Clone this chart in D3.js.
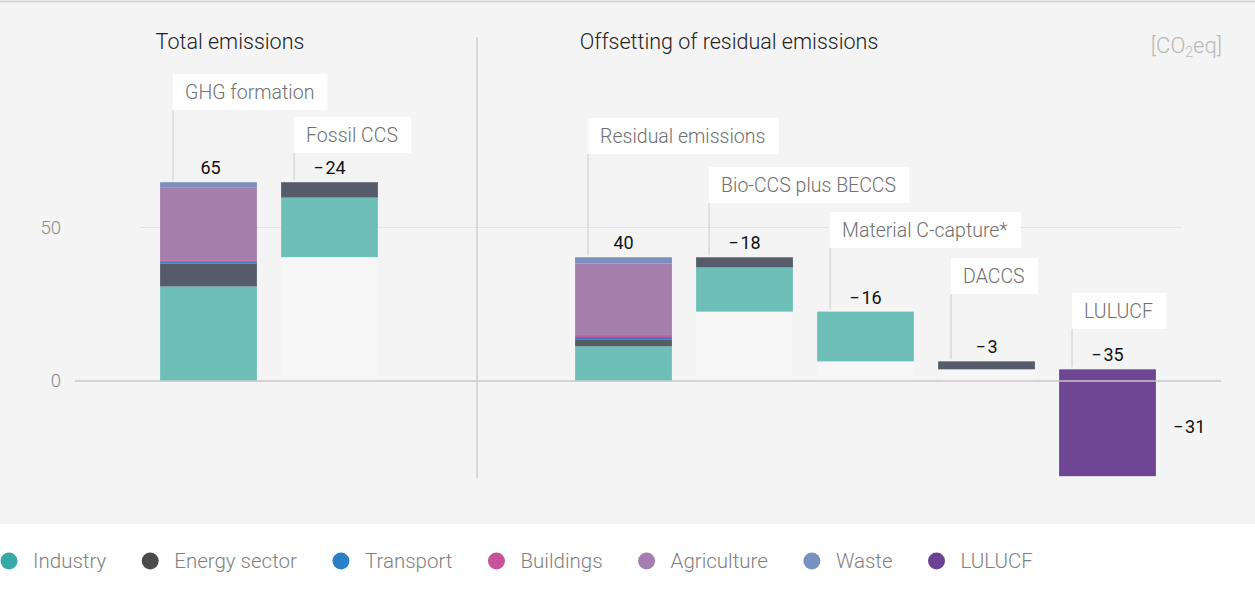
<!DOCTYPE html>
<html>
<head>
<meta charset="utf-8">
<script src="https://cdn.jsdelivr.net/npm/d3@7"></script>
<style>
  body { margin: 0; background: #fff; font-family: Roboto, "Open Sans", sans-serif; }
</style>
</head>
<body>
<div id="chart"></div>
<script>
// data (CO2eq)
var categories = ["GHG formation", "Fossil CCS", "Residual emissions", "Bio-CCS plus BECCS",
                  "Material C-capture*", "DACCS", "LULUCF"];
var barKind = ["total", "step", "total", "step", "step", "step", "step"];
var sectors = ["Industry", "Energy sector", "Transport", "Buildings", "Agriculture", "Waste", "LULUCF"];

var industry    = [30.8, 19.4, 11.3, 14.4, 16.2, 0,   0];
var energy      = [7.4,  5.0,  2.3,  3.3,  0,    2.6, 0];
var transport   = [0.55, 0,    0.75, 0,    0,    0,   0];
var buildings   = [0.6,  0,    0.65, 0,    0,    0,   0];
var agriculture = [23.6, 0,    23.3, 0,    0,    0,   0];
var waste       = [1.8,  0,    2.0,  0,    0,    0,   0];
var lulucf      = [0,    0,    0,    0,    0,    0,   34.8];

var valueLabels = ["65", "\u2212\u200a24", "40", "\u2212\u200a18", "\u2212\u200a16", "\u2212\u200a3", "\u2212\u200a35"];
var endLabel = "\u2212\u200a31";
var yTicks = [0, 50];
var panelTitles = ["Total emissions", "Offsetting of residual emissions"];

// styles
var barColors    = ["#6dbfb7", "#555b69", "#3a7bbf", "#d0589f", "#a47fab", "#7a8fbe", "#6f4694"];
var legendColors = ["#35a8a8", "#4b4b4b", "#2a80c6", "#c7529c", "#a67db1", "#7791c0", "#6d4295"];
var calloutTop = [74, 117, 118, 167, 212, 258, 293];

var W = 1255, H = 593;

var svg = d3.select("#chart").append("svg")
    .attr("width", W)
    .attr("height", H);

// grey panel
svg.append("rect")
    .attr("width", W).attr("height", 524)
    .attr("fill", "#f4f4f4");
svg.append("line")
    .attr("x1", 0).attr("x2", W).attr("y1", 1.5).attr("y2", 1.5)
    .attr("stroke", "#cfcfcf").attr("stroke-width", 1.5);

// scales
var y = d3.scaleLinear().domain([0, 50]).range([381, 227.5]);

var xLeft = d3.scaleBand().domain(categories.slice(0, 2))
    .range([148, 390]).paddingInner(0.2).paddingOuter(0.1);
var xRight = d3.scaleBand().domain(categories.slice(2))
    .range([563, 1168]).paddingInner(0.2).paddingOuter(0.1);
function xPos(c) { return xLeft.domain().indexOf(c) >= 0 ? xLeft(c) : xRight(c); }
var bw = xLeft.bandwidth();

// build the table and stack it
var rows = categories.map(function(c, i) {
  return {
    cat: c,
    "Industry": industry[i],
    "Energy sector": energy[i],
    "Transport": transport[i],
    "Buildings": buildings[i],
    "Agriculture": agriculture[i],
    "Waste": waste[i],
    "LULUCF": lulucf[i]
  };
});
var stacked = d3.stack().keys(sectors)(rows);

// waterfall offsets
var level = 0;
var bars = rows.map(function(r, i) {
  var sum = d3.sum(sectors, function(k) { return r[k]; });
  var base;
  if (barKind[i] === "total") { base = 0; level = sum; }
  else { base = level - sum; level = base; }
  return { cat: r.cat, base: base, top: base + sum, kind: barKind[i] };
});

// gridline at 50
svg.append("line")
    .attr("x1", 140).attr("x2", 1182)
    .attr("y1", y(50)).attr("y2", y(50))
    .attr("stroke", "#e2e2e2").attr("stroke-width", 1.2);

// y axis labels
var yAxis = svg.append("g")
    .attr("transform", "translate(61,0)")
    .call(d3.axisLeft(y).tickValues(yTicks).tickSize(0).tickPadding(0));
yAxis.select(".domain").remove();
yAxis.selectAll("text")
    .attr("font-family", "Roboto, sans-serif")
    .attr("font-size", 18.5)
    .attr("font-weight", 300)
    .attr("fill", "#8a8a8a");

// panel divider
svg.append("line")
    .attr("x1", 477).attr("x2", 477).attr("y1", 37).attr("y2", 478)
    .attr("stroke", "#cfcfcf").attr("stroke-width", 1.5);

// ghost bars below floating steps
svg.selectAll("rect.ghost")
    .data(bars.filter(function(b) { return b.kind === "step" && b.base > 0; }))
  .enter().append("rect")
    .attr("class", "ghost")
    .attr("x", function(d) { return xPos(d.cat); })
    .attr("width", bw)
    .attr("y", function(d) { return y(d.base); })
    .attr("height", function(d) { return y(0) - y(d.base); })
    .attr("fill", "#f6f6f6");

// stacked segments
stacked.forEach(function(layer, k) {
  svg.append("g")
    .selectAll("rect")
    .data(layer.filter(function(d) { return d[1] - d[0] > 0; }))
    .enter().append("rect")
      .attr("x", function(d) { return xPos(d.data.cat); })
      .attr("width", bw)
      .attr("y", function(d) {
        var b = bars[categories.indexOf(d.data.cat)].base;
        return y(d[1] + b);
      })
      .attr("height", function(d) { return y(d[0]) - y(d[1]); })
      .attr("fill", barColors[k]);
});

// zero line
svg.append("line")
    .attr("x1", 75).attr("x2", 1221)
    .attr("y1", y(0)).attr("y2", y(0))
    .attr("stroke", "#c9c9c9").attr("stroke-width", 1.5);

// callouts
bars.forEach(function(b, i) {
  var bx = xPos(b.cat) + 13;
  var top = calloutTop[i];
  svg.append("line")
      .attr("x1", bx).attr("x2", bx)
      .attr("y1", top).attr("y2", y(b.top) - 2)
      .attr("stroke", "#d9d9d9").attr("stroke-width", 1.5);
  var box = svg.append("rect")
      .attr("x", bx - 0.75).attr("y", top)
      .attr("height", 36)
      .attr("fill", "#fff");
  var t = svg.append("text")
      .attr("x", bx + 12).attr("y", top + 25)
      .attr("font-size", 19.5)
      .attr("font-weight", 300)
      .attr("fill", "#6f6f6f")
      .text(b.cat);
  box.attr("width", t.node().getComputedTextLength() + 26);

  svg.append("text")
      .attr("x", xPos(b.cat) + bw / 2 + (i === 0 ? 2 : 0))
      .attr("y", y(b.top) - 8)
      .attr("text-anchor", "middle")
      .attr("font-size", 18)
      .attr("font-weight", 400)
      .attr("fill", "#111")
      .text(valueLabels[i]);
});

// end value of the last step
var last = bars[bars.length - 1];
svg.append("text")
    .attr("x", xPos(last.cat) + bw + 17)
    .attr("y", (y(last.top) + y(last.base)) / 2 + 10)
    .attr("font-size", 18)
    .attr("font-weight", 400)
    .attr("fill", "#111")
    .text(endLabel);

// panel titles
svg.append("text")
    .attr("x", 230).attr("y", 49)
    .attr("text-anchor", "middle")
    .attr("font-size", 21.5).attr("font-weight", 300).attr("fill", "#222")
    .text(panelTitles[0]);
svg.append("text")
    .attr("x", 729).attr("y", 49)
    .attr("text-anchor", "middle")
    .attr("font-size", 21.5).attr("font-weight", 300).attr("fill", "#222")
    .text(panelTitles[1]);

// unit
var unit = svg.append("text")
    .attr("x", 1222).attr("y", 53)
    .attr("text-anchor", "end")
    .attr("font-size", 22).attr("font-weight", 300)
    .attr("fill", "#b8b8b8");
unit.append("tspan").text("[CO");
unit.append("tspan").attr("font-size", 14).attr("dy", 4).text("2");
unit.append("tspan").attr("dy", -4).text("eq]");

// legend
var lx = 9;
sectors.forEach(function(s, k) {
  svg.append("circle")
      .attr("cx", lx).attr("cy", 561).attr("r", 8.5)
      .attr("fill", legendColors[k]);
  var t = svg.append("text")
      .attr("x", lx + 24).attr("y", 568)
      .attr("font-size", 20.5)
      .attr("font-weight", 300)
      .attr("fill", "#7f7f7f")
      .text(s);
  lx = lx + 24 + t.node().getComputedTextLength() + 44;
});
</script>
</body>
</html>
